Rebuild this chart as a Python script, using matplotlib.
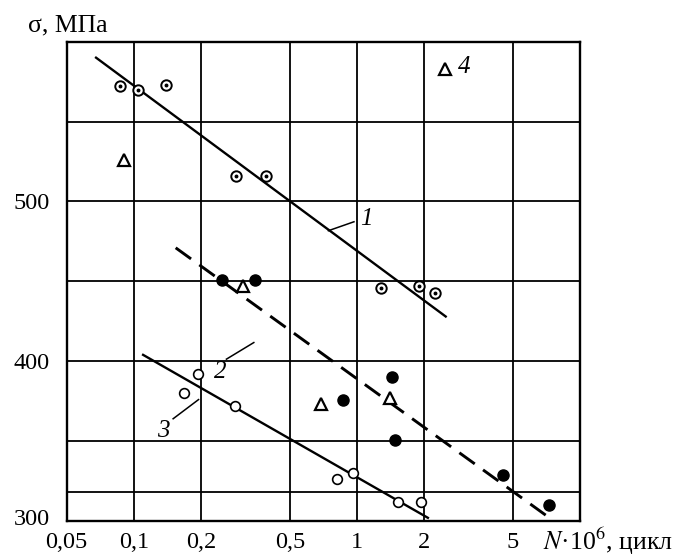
import matplotlib
matplotlib.use("Agg")
import matplotlib.pyplot as plt
import matplotlib.transforms as mtransforms

plt.rcParams['font.family'] = ['Liberation Serif', 'DejaVu Serif']
plt.rcParams['mathtext.fontset'] = 'stix'

# Series 1 (circle with dot)
s1_x = [0.087, 0.104, 0.139, 0.287, 0.392, 1.28, 1.89, 2.25]
s1_y = [572, 570, 573, 516, 516, 446, 447, 443]
# Series 2 (filled circles)
s2_x = [0.249, 0.350, 0.862, 1.44, 1.48, 4.54, 7.25]
s2_y = [451, 451, 376, 390, 351, 329, 310]
# Series 3 (open circles)
s3_x = [0.168, 0.194, 0.285, 0.818, 0.956, 1.53, 1.93]
s3_y = [380, 392, 372, 326, 330, 312, 312]
# Series 4 (open triangles)
s4_x = [0.090, 0.308, 0.689, 1.40]
s4_y = [526, 447, 373, 377]

# Fitted lines (endpoints)
line1_x = [0.0677, 2.50]; line1_y = [590, 428]
line2_x = [0.154, 7.29];  line2_y = [471, 302]
line3_x = [0.110, 2.08];  line3_y = [404, 302]

xticks = [0.05, 0.1, 0.2, 0.5, 1, 2, 5]
xticklabels = ['0,05', '0,1', '0,2', '0,5', '1', '2', '5']
yticks = [300, 400, 500]
xgrid = [0.1, 0.2, 0.5, 1, 2, 5]
ygrid = [318, 350, 400, 450, 500, 550]

W, H = 676, 556
fig = plt.figure(figsize=(W/100, H/100), dpi=100)
ax = fig.add_axes([66.7/W, 1-521/H, (580-66.7)/W, (521-41.7)/H])
ax.set_xscale('log')
ax.set_xlim(0.05, 10)
ax.set_ylim(300, 600)

for gx in xgrid:
    ax.axvline(gx, color='black', lw=1.3, zorder=1)
for gy in ygrid:
    ax.axhline(gy, color='black', lw=1.3, zorder=1)
for sp in ax.spines.values():
    sp.set_linewidth(1.7)

ax.set_xticks(xticks)
ax.set_xticklabels(xticklabels)
ax.minorticks_off()
ax.set_yticks(yticks)
ax.set_yticklabels([str(v) for v in yticks])
ax.tick_params(length=0, labelsize=17.5)
ax.tick_params(axis='y', pad=12)
ax.tick_params(axis='x', pad=8)
# lift the bottom y label slightly as in the reference
lab300 = ax.get_yticklabels()[0]
lab300.set_transform(lab300.get_transform() +
                     mtransforms.ScaledTranslation(0, 4/100, fig.dpi_scale_trans))

ax.plot(line1_x, line1_y, color='black', lw=1.7, zorder=2)
ax.plot(line2_x, line2_y, color='black', lw=2.1, ls=(0, (6.5, 3.5)), zorder=2)
ax.plot(line3_x, line3_y, color='black', lw=1.7, zorder=2)

ax.plot(s1_x, s1_y, 'o', ms=7.5, mfc='white', mec='black', mew=1.4, zorder=3)
ax.plot(s1_x, s1_y, 'o', ms=1.8, color='black', zorder=4)
ax.plot(s2_x, s2_y, 'o', ms=8, color='black', zorder=3)
ax.plot(s3_x, s3_y, 'o', ms=7, mfc='white', mec='black', mew=1.2, zorder=3)
ax.plot(s4_x, s4_y, '^', ms=9, mfc='white', mec='black', mew=1.6, zorder=3)

# Line labels with leaders
ax.plot([0.745, 0.97], [481.7, 487.3], color='black', lw=1.1)
ax.text(1.03, 489, '1', fontsize=18, style='italic', ha='left', va='center')
ax.plot([0.26, 0.345], [401.3, 411.7], color='black', lw=1.1)
ax.text(0.245, 393, '2', fontsize=18, style='italic', ha='center', va='center')
ax.plot([0.15, 0.195], [364, 376], color='black', lw=1.1)
ax.text(0.135, 356.5, '3', fontsize=18, style='italic', ha='center', va='center')

ax.plot([2.47], [583], '^', ms=9, mfc='white', mec='black', mew=1.6)
ax.text(2.85, 584, '4', fontsize=18, style='italic', ha='left', va='center')

fig.text(28/W, 1-25/H, 'σ, МПа', fontsize=18.5, ha='left', va='center')
fig.text(543/W, 1-541/H, '$N$·10$^6$, цикл', fontsize=18.5, ha='left', va='center')

fig.savefig('out.png', dpi=100)
